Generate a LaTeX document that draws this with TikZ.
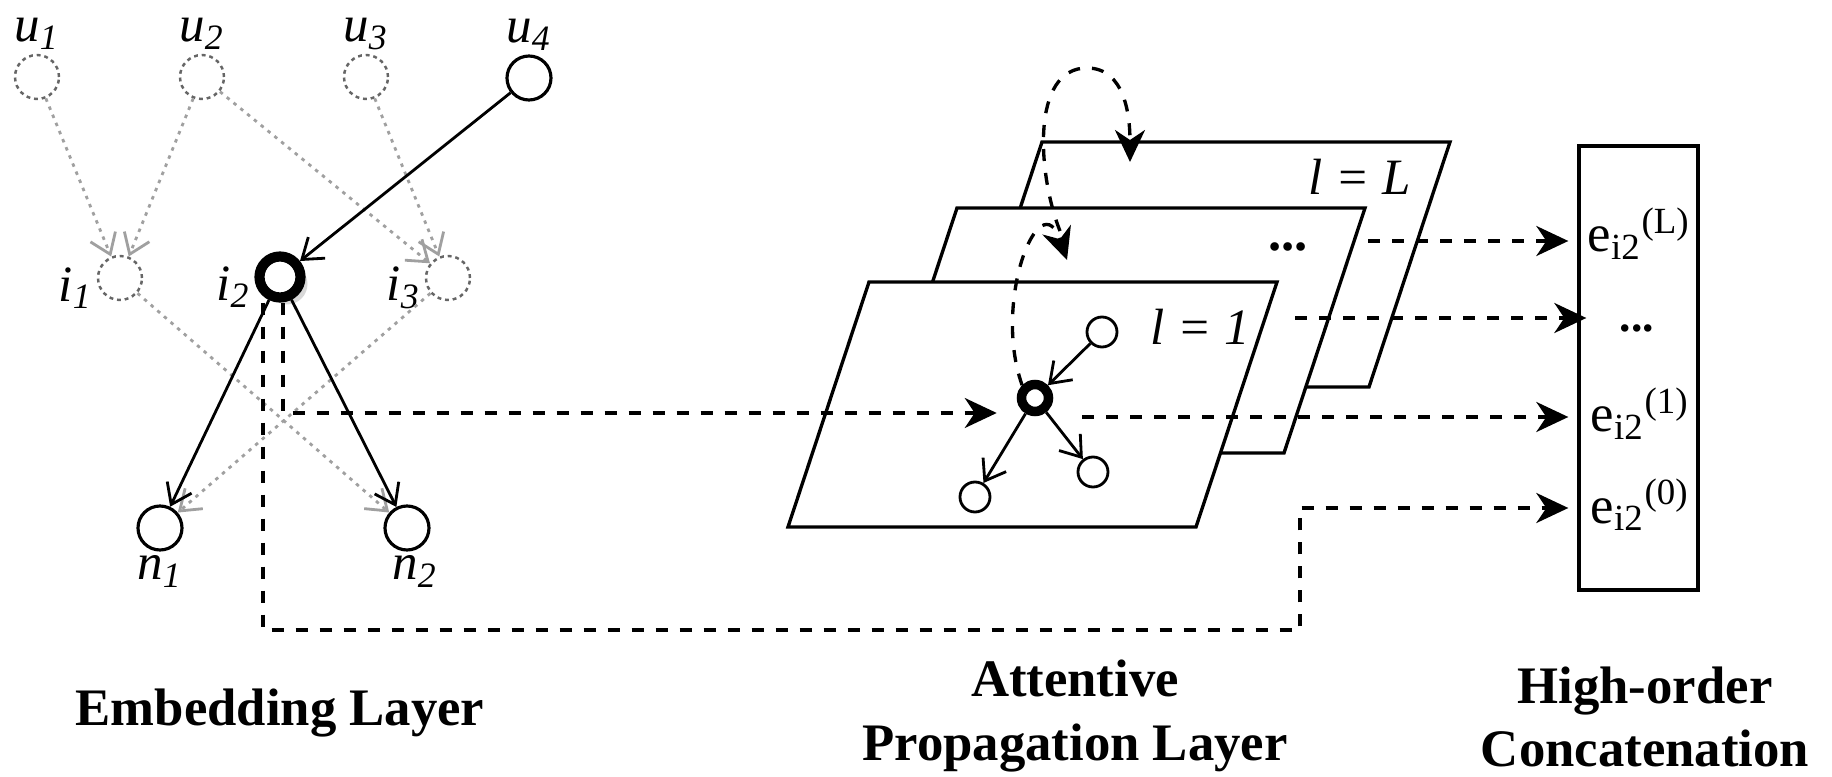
\documentclass[tikz,border=0pt]{standalone}
\usepackage{fontspec}
\setmainfont{Liberation Serif}
\usepackage{tikz}
\usetikzlibrary{positioning,arrows.meta,calc,shadows}
\definecolor{ghost}{HTML}{A0A0A0}
\definecolor{ghostB}{HTML}{666666}

\begin{document}
\begin{tikzpicture}[
  every node/.style={font=\fontsize{13}{15}\selectfont},
  unode/.style={circle, draw=ghostB, dash pattern=on 1.1pt off 1.1pt, line width=0.7pt,
              fill=white, minimum size=4.4mm, inner sep=0pt},
  snode/.style={circle, draw=black, line width=0.9pt, fill=white, minimum size=4.4mm, inner sep=0pt},
  hnode/.style={circle, draw=black, line width=2.9pt, fill=white, minimum size=4.1mm, inner sep=0pt,
              drop shadow={shadow xshift=0.7mm, shadow yshift=-0.7mm, fill=black!30}},
  pnode/.style={circle, draw=black, line width=0.8pt, fill=white, minimum size=3mm, inner sep=0pt},
  pcen/.style={circle, draw=black, line width=2.7pt, fill=white, minimum size=2.7mm, inner sep=0pt},
  lbl/.style={font=\fontsize{14.5}{16}\selectfont\itshape, inner sep=1pt},
  garr/.style={-{Straight Barb[length=1.9mm,width=2.7mm]}, ghost, line width=0.8pt,
              dash pattern=on 1pt off 1.5pt},
  karr/.style={-{Straight Barb[length=1.9mm,width=2.7mm]}, black, line width=0.8pt},
  dline/.style={black, line width=0.95pt, dash pattern=on 1.2mm off 1.2mm},
  darr/.style={dline, -{Stealth[length=3.2mm,width=3mm,inset=1mm]}},
  plane/.style={draw=black, fill=white, line width=0.95pt},
  ttl/.style={font=\fontsize{15}{18}\selectfont\bfseries, align=center},
  elab/.style={font=\fontsize{15}{18}\selectfont, anchor=base west, inner sep=0pt}
]
  \useasboundingbox (0,0) rectangle (18.32,7.76);
  % ---- embedding layer (left) ----
  \node[unode, label={[lbl]above:u\textsubscript{1}}] (u1) at (0.37,6.99) {};
  \node[unode, label={[lbl]above:u\textsubscript{2}}] (u2) at (2.02,6.99) {};
  \node[unode, label={[lbl]above:u\textsubscript{3}}] (u3) at (3.66,6.99) {};
  \node[snode, label={[lbl]above:u\textsubscript{4}}] (u4) at (5.29,6.98) {};
  \node[unode, label distance=1.4mm, label={[lbl, yshift=-1mm]left:i\textsubscript{1}}] (i1) at (1.20,4.98) {};
  \node[hnode, label distance=0.2mm, label={[lbl, yshift=-1mm]left:i\textsubscript{2}}] (i2) at (2.80,4.99) {};
  \node[unode, label distance=1.4mm, label={[lbl, yshift=-1mm]left:i\textsubscript{3}}] (i3) at (4.48,4.98) {};
  \node[snode, label distance=1.8mm, label={[lbl]below:n\textsubscript{1}}] (n1) at (1.60,2.48) {};
  \node[snode, label distance=1.3mm, label={[lbl, xshift=0.8mm]below:n\textsubscript{2}}] (n2) at (4.07,2.48) {};
  \draw[garr] (u1) -- (i1);
  \draw[garr] (u2) -- (i1);
  \draw[garr] (u2) -- (i3);
  \draw[garr] (u3) -- (i3);
  \draw[garr] (i1) -- (n2);
  \draw[garr] (i3) -- (n1);
  \draw[karr] (u4) -- (i2);
  \draw[karr] (i2) -- (n1);
  \draw[karr] (i2) -- (n2);
  % ---- attentive propagation layers (middle) ----
  \foreach \dx/\dy in {1.73/1.40, 0.88/0.74, 0/0} {
     \draw[plane] ($(7.88,2.49)+(\dx,\dy)$) -- ++(4.08,0) -- ++(0.81,2.45) -- ++(-4.08,0) -- cycle;
  }
  \node[lbl, font=\fontsize{14.5}{16}\selectfont\itshape] (lL) at (13.60,5.99) {l = L};
  \node[font=\fontsize{15}{18}\selectfont\bfseries] (ldots) at (12.88,5.29) {...};
  \node[lbl, font=\fontsize{14.5}{16}\selectfont\itshape] (l1) at (12.00,4.49) {l = 1};
  \node[pcen] (c)   at (10.35,3.78) {};
  \node[pnode] (ctr) at (11.02,4.44) {};
  \node[pnode] (cbl) at (9.75,2.79) {};
  \node[pnode] (cbr) at (10.93,3.04) {};
  \draw[karr] (ctr) -- (c);
  \draw[karr] (c) -- (cbl);
  \draw[karr] (c) -- (cbr);
  \coordinate (hop1) at (10.67,5.16);
  \coordinate (hop2) at (11.30,6.14);
  \draw[darr] (c.north west) .. controls (9.92,4.75) and (10.40,5.95) .. (hop1);
  \draw[darr] ($(hop1)+(-0.07,0.29)$) .. controls (10.38,6.0) and (10.30,7.08) .. (10.87,7.08)
        .. controls (11.25,7.08) and (11.30,6.6) .. (hop2);
  % ---- high-order concatenation (right) ----
  \node[draw, line width=0.95pt, minimum width=1.19cm, minimum height=4.44cm, inner sep=0pt] (cat) at (16.385,4.08) {};
  \node[elab] (eL) at (15.87,5.24) {e\textsubscript{i2}\textsuperscript{(L)}};
  \node[font=\fontsize{13}{15}\selectfont\bfseries] (dotsR) at (16.37,4.48) {...};
  \node[elab] (e1) at (15.90,3.44) {e\textsubscript{i2}\textsuperscript{(1)}};
  \node[elab] (e0) at (15.90,2.53) {e\textsubscript{i2}\textsuperscript{(0)}};
  \coordinate (oL) at (13.68,5.35);
  \coordinate (oD) at (12.95,4.58);
  \coordinate (o1) at (10.82,3.59);
  \coordinate (r0) at (13.00,2.68);
  \coordinate (low) at (13.00,1.46);
  \draw[darr, shorten >=2mm] ([xshift=0.3mm]i2.south) |- ([yshift=-1.5mm]c.west);
  \draw[darr, shorten >=0.9mm] ([xshift=-1.7mm]i2.south) |- (low) -- (r0) -- (r0 -| cat.west);
  \draw[darr, shorten >=0.9mm] (oL) -- (oL -| cat.west);
  \draw[darr, shorten >=-0.9mm] (oD) -- (oD -| cat.west);
  \draw[darr, shorten >=0.9mm] (o1) -- (o1 -| cat.west);
  % ---- titles ----
  \node[ttl] (tEmb) at (2.80,0.63) {Embedding Layer};
  \node[ttl] (tAtt) at (10.75,0.60) {Attentive\\Propagation Layer};
  \node[ttl] (tCat) at (16.45,0.59) {High-order\\Concatenation};
\end{tikzpicture}
\end{document}
